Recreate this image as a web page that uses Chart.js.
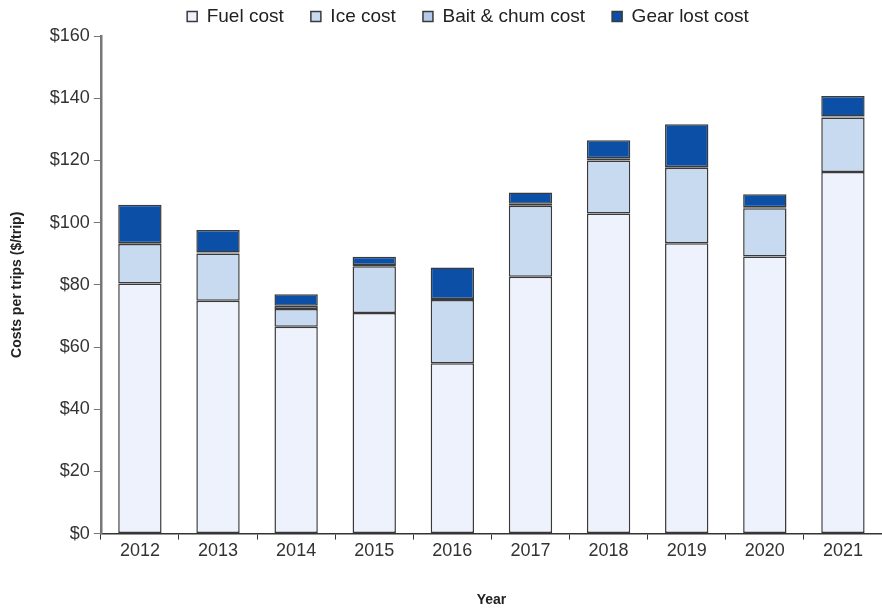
<!DOCTYPE html>
<html>
<head>
<meta charset="utf-8">
<script src="https://cdn.jsdelivr.net/npm/chart.js@4"></script>
<style>
  html, body { margin: 0; padding: 0; background: #fff; }
  #wrap { width: 882px; height: 609px; position: relative; }
</style>
</head>
<body>
<div id="wrap"><canvas id="chart"></canvas></div>
<script>
// data ($ per trip)
const years = ['2012', '2013', '2014', '2015', '2016', '2017', '2018', '2019', '2020', '2021']
const fuelCost = [80.4, 74.9, 66.5, 70.9, 54.8, 82.6, 102.9, 93.4, 89.1, 116.3]
const iceCost = [12.7, 15.2, 5.7, 15.1, 20.3, 22.8, 17.1, 24.2, 15.5, 17.5]
const baitCost = [0.3, 0.3, 1.1, 0.4, 0.3, 0.7, 0.7, 0.3, 0.3, 0.3]
const gearCost = [12.3, 7.2, 3.7, 2.6, 10.2, 3.6, 5.8, 13.7, 4.2, 6.6]
const yTicks = [0, 20, 40, 60, 80, 100, 120, 140, 160]

const fontName = "'Liberation Sans', Arial, sans-serif"

function serie(label, data, color) {
  return {
    label: label,
    data: data,
    backgroundColor: color,
    borderColor: '#3a3a3a',
    borderWidth: 1.5,
    borderSkipped: false,
    categoryPercentage: 1,
    barPercentage: 0.555
  }
}

// legend: wider gaps between items, and a little shift to the right
const legendNudge = {
  id: 'legendNudge',
  afterLayout(chart) {
    chart.legend.left += 18
    chart.legend.right += 18
  }
}

new Chart(document.getElementById('chart'), {
  type: 'bar',
  data: {
    labels: years,
    datasets: [
      serie('Fuel cost', fuelCost, '#eef2fc'),
      serie('Ice cost', iceCost, '#c7daf0'),
      serie('Bait & chum cost', baitCost, '#b3cbe8'),
      serie('Gear lost cost', gearCost, '#0b4fa6')
    ]
  },
  plugins: [legendNudge],
  options: {
    responsive: true,
    maintainAspectRatio: false,
    animation: false,
    layout: { padding: { left: 9, right: -9, top: 1, bottom: 0 } },
    plugins: {
      legend: {
        position: 'top',
        labels: {
          boxWidth: 10,
          boxHeight: 10,
          padding: 6,
          color: '#222',
          font: { family: fontName, size: 19 },
          generateLabels: chart => {
            const items = Chart.defaults.plugins.legend.labels.generateLabels(chart)
            items.forEach((it, i) => { if (i < items.length - 1) it.text = it.text + '    ' })
            return items
          }
        }
      },
      tooltip: { enabled: false }
    },
    scales: {
      x: {
        stacked: true,
        grid: { offset: true, drawOnChartArea: false, drawTicks: true, tickLength: 6, color: '#333' },
        border: { color: '#333', width: 1.5 },
        ticks: { color: '#333', font: { family: fontName, size: 18 }, padding: 1 },
        title: {
          display: true,
          text: 'Year',
          color: '#222',
          font: { family: fontName, size: 14, weight: 'bold' },
          padding: { top: 29, bottom: 0 }
        }
      },
      y: {
        stacked: true,
        min: 0,
        max: 160,
        afterBuildTicks: axis => { axis.ticks = yTicks.map(v => ({ value: v })) },
        grid: { drawOnChartArea: false, drawTicks: true, tickLength: 7, color: '#777' },
        border: { color: '#777', width: 2.5 },
        ticks: {
          color: '#333',
          font: { family: fontName, size: 18 },
          padding: 4,
          callback: v => '$' + v
        },
        title: {
          display: true,
          text: 'Costs per trips ($/trip)',
          color: '#222',
          font: { family: fontName, size: 14, weight: 'bold' },
          padding: { top: 0, bottom: 20 }
        }
      }
    }
  }
})
</script>
</body>
</html>
